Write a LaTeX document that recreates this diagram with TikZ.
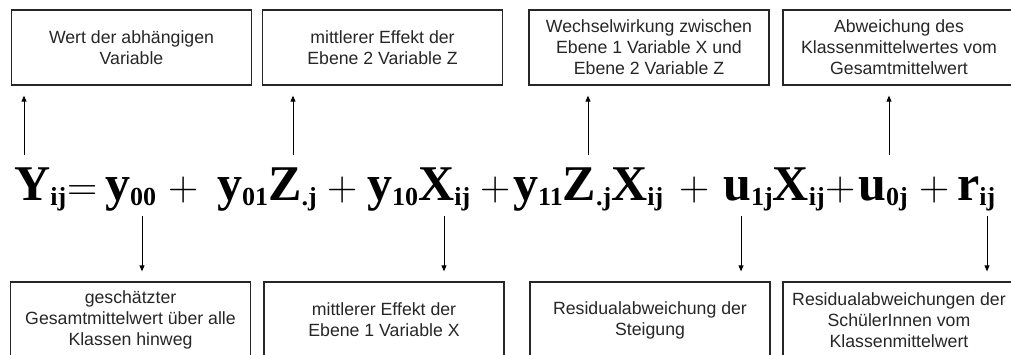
\documentclass[tikz,border=0pt]{standalone}
\usepackage{fontspec}
\newfontfamily\boxfont{Liberation Sans}
\newfontfamily\eqfont{Liberation Serif}
\usepackage{tikz}
\usetikzlibrary{positioning,arrows.meta,calc}
\newcommand\idx[1]{\raisebox{-5pt}{\fontsize{26}{26}\selectfont #1}}
\tikzset{
  lblbox/.style={draw=black!85,line width=1.3pt,minimum width=240pt,minimum height=75pt,
    align=center,inner sep=2pt,font=\boxfont\fontsize{17.7}{21}\selectfont,text=black!85},
  term/.style={inner sep=0pt,anchor=base west,font=\eqfont\bfseries\fontsize{50}{50}\selectfont},
  op/.style={inner sep=0pt,anchor=base,font=\fontsize{42}{42}\selectfont},
  uparr/.style={-{Triangle[length=6pt,width=5pt]},line width=0.9pt,shorten >=10pt},
  dnarr/.style={-{Triangle[length=6pt,width=5pt]},line width=0.9pt,shorten >=10pt},
}
\begin{document}
\begin{tikzpicture}[x=1pt,y=1pt]
  \useasboundingbox (0,0) rectangle (1011,354);
  \clip (0,0) rectangle (1011,354);
  % explanation boxes, top row
  \node[lblbox] (wert)    at (131.5,306.5) {Wert der abhängigen\\Variable};
  \node[lblbox] (effz)    at (382.5,306.5) {mittlerer Effekt der\\Ebene 2 Variable Z};
  \node[lblbox] (wechsel) at (649,306.5) {Wechselwirkung zwischen\\Ebene 1 Variable X und\\Ebene 2 Variable Z};
  \node[lblbox,minimum width=232pt] (abwkl) at (899,306.5) {Abweichung des\\Klassenmittelwertes vom\\Gesamtmittelwert};
  % explanation boxes, bottom row (cut by the page edge)
  \node[lblbox,minimum height=76pt] (gesamt)  at (130.5,34) {geschätzter\\Gesamtmittelwert über alle\\Klassen hinweg};
  \node[lblbox,minimum height=76pt] (effx)    at (384,34) {mittlerer Effekt der\\Ebene 1 Variable X};
  \node[lblbox,minimum height=76pt] (residst) at (650,34) {Residualabweichung der\\Steigung};
  \node[lblbox,minimum height=76pt,minimum width=232pt] (residsch) at (899,34) {Residualabweichungen der\\SchülerInnen vom\\Klassenmittelwert};
  % the model equation, baseline at y=154
  \node[term] (tY)   at (14,154)  {Y\idx{ij}};
  \node[term] (ty00) at (105,154) {y\idx{00}};
  \node[term] (ty01) at (217,154) {y\idx{01}Z\idx{.j}};
  \node[term] (ty10) at (367,154) {y\idx{10}X\idx{ij}};
  \node[term] (ty11) at (513,154) {y\idx{11}Z\idx{.j}X\idx{ij}};
  \node[term] (tu1)  at (723,154) {u\idx{1j}X\idx{ij}};
  \node[term] (tu0)  at (858,154) {u\idx{0j}};
  \node[term] (tr)   at (957,154) {r\idx{ij}};
  \node[op] (teq) at (83,154) {=};
  \foreach \x/\n in {184/pA,343/pB,496/pC,695/pD,841/pE,935/pF}
    \node[op] (\n) at (\x,154) {+};
  % arrows up to the top boxes
  \foreach \x/\b in {24/wert,293/effz,588/wechsel,889/abwkl}{
    \coordinate (u\b) at (\x,199);
    \draw[uparr] (u\b) -- (u\b |- \b.south);
  }
  % arrows down to the bottom boxes
  \foreach \x/\b in {142/gesamt,444/effx,741/residst,987/residsch}{
    \coordinate (d\b) at (\x,138);
    \draw[dnarr] (d\b) -- (d\b |- \b.north);
  }
\end{tikzpicture}
\end{document}
